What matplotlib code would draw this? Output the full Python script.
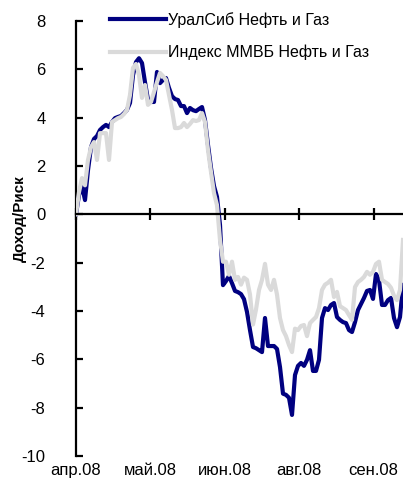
import matplotlib
matplotlib.use("Agg")
import matplotlib.pyplot as plt

# Return/risk ratio, daily closes April - September 2008
uralsib = [
    0.00, 0.80, 1.17, 0.59, 1.83, 2.78, 3.12, 3.24, 3.49, 3.61,
    3.70, 3.61, 3.82, 3.98, 4.03, 4.07, 4.19, 4.32, 4.61, 5.76,
    6.30, 6.46, 6.26, 5.47, 4.73, 4.65, 4.65, 5.89, 5.43, 5.56,
    5.64, 5.23, 4.89, 4.77, 4.73, 4.48, 4.48, 4.19, 4.40, 4.31,
    4.27, 4.36, 4.44, 3.90, 2.87, 1.92, 1.17, 0.72, -0.44, -2.93,
    -2.76, -2.55, -2.85, -3.17, -3.22, -3.30, -3.51, -4.04, -4.79, -5.49,
    -5.54, -5.62, -5.70, -4.29, -5.45, -5.45, -5.45, -5.57, -6.32, -7.42,
    -7.47, -7.59, -8.30, -6.65, -6.27, -6.15, -6.27, -6.02, -5.62, -6.48,
    -6.48, -6.02, -4.29, -3.88, -3.96, -3.75, -3.67, -4.25, -4.37, -4.46,
    -4.50, -4.79, -4.87, -4.46, -3.96, -3.71, -3.46, -3.17, -3.13, -3.50,
    -2.47, -2.72, -3.75, -3.75, -3.55, -3.46, -4.29, -4.67, -4.25, -2.92,
]
micex_oil_gas = [
    0.00, 0.92, 1.50, 1.20, 2.25, 2.78, 2.99, 2.25, 3.36, 3.36,
    3.36, 2.25, 3.82, 3.90, 3.98, 4.03, 4.15, 4.32, 4.94, 6.06,
    6.22, 5.76, 4.82, 5.35, 4.53, 4.65, 5.06, 5.47, 5.85, 5.72,
    5.56, 4.94, 4.32, 3.57, 3.57, 3.61, 3.78, 3.61, 3.74, 3.90,
    3.86, 3.90, 4.19, 3.82, 2.66, 1.75, 0.88, 0.38, -1.06, -1.96,
    -1.96, -2.50, -1.96, -2.71, -2.59, -2.91, -2.62, -2.71, -3.32, -4.56,
    -3.94, -3.13, -2.71, -2.05, -2.91, -3.13, -2.71, -3.32, -4.29, -4.79,
    -5.04, -5.41, -5.70, -4.73, -4.79, -4.62, -4.58, -5.04, -4.50, -4.37,
    -4.25, -3.88, -3.13, -2.91, -2.83, -2.71, -3.42, -3.21, -3.80, -3.88,
    -3.96, -4.17, -4.37, -3.01, -2.80, -2.71, -2.59, -2.38, -2.50, -2.38,
    -2.05, -1.96, -2.71, -2.80, -2.88, -3.04, -3.37, -3.55, -3.13, -1.06,
]
series_names = ["УралСиб Нефть и Газ", "Индекс ММВБ Нефть и Газ"]
month_labels = ["апр.08", "май.08", "июн.08", "авг.08", "сен.08"]
month_ticks = [0, 24.8, 49.6, 74.4, 99.2]
y_ticks = list(range(-10, 9, 2))

plt.rcParams["font.family"] = ["Liberation Sans", "DejaVu Sans"]
plt.rcParams["axes.unicode_minus"] = False

W, H = 403, 490
fig = plt.figure(figsize=(W / 100, H / 100), dpi=100)
ax = fig.add_axes([76 / W, 34 / H, 327 / W, 435 / H])

x = list(range(len(uralsib)))
ax.plot(x, uralsib, color="#000080", lw=3.0, label=series_names[0],
        solid_joinstyle="round", zorder=3)
ax.plot(x, micex_oil_gas, color="#dadada", lw=3.0, label=series_names[1],
        solid_joinstyle="round", zorder=4)

ax.set_xlim(0, len(x) - 1)
ax.set_ylim(-10, 8)
ax.set_yticks(y_ticks)

for side in ("top", "right"):
    ax.spines[side].set_visible(False)
ax.spines["left"].set_linewidth(1.6)
ax.spines["bottom"].set_position(("data", 0))
ax.spines["bottom"].set_linewidth(1.6)
ax.spines["bottom"].set_zorder(5)

ax.tick_params(axis="y", direction="in", length=5, width=1.6, pad=22,
               labelsize=12)
ax.set_xticks(month_ticks)
ax.tick_params(axis="x", direction="inout", length=9, width=1.6,
               labelbottom=False)

sec = ax.secondary_xaxis("bottom")
sec.set_xticks(month_ticks, labels=month_labels)
sec.tick_params(length=0, pad=5, labelsize=12)
sec.spines["bottom"].set_visible(False)

ax.set_ylabel("Доход/Риск", fontsize=11, fontweight="bold")
ax.yaxis.set_label_coords(-49 / 327, 0.545)

ax.legend(loc="upper left", bbox_to_anchor=(110 / W, 1 - 12 / H),
          bbox_transform=fig.transFigure, frameon=False, fontsize=11.5,
          handlelength=3.5, handletextpad=0.15, labelspacing=1.05,
          borderpad=0, borderaxespad=0)

fig.savefig("out.png", dpi=100)
